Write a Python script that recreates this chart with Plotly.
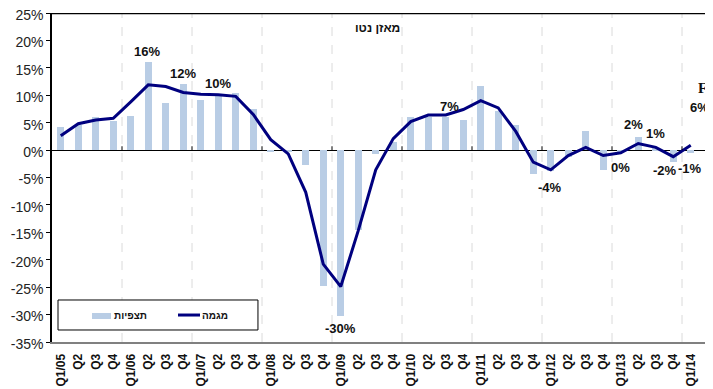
import plotly.graph_objects as go

categories = ["Q1/05", "Q2", "Q3", "Q4", "Q1/06", "Q2", "Q3", "Q4",
              "Q1/07", "Q2", "Q3", "Q4", "Q1/08", "Q2", "Q3", "Q4",
              "Q1/09", "Q2", "Q3", "Q4", "Q1/10", "Q2", "Q3", "Q4",
              "Q1/11", "Q2", "Q3", "Q4", "Q1/12", "Q2", "Q3", "Q4",
              "Q1/13", "Q2", "Q3", "Q4", "Q1/14", "Q2"]

observed = [4.2, 4.5, 6.1, 5.3, 6.3, 16.1, 8.6, 12.1, 9.1, 9.9, 10.5, 7.5,
            -0.2, -0.3, -2.8, -24.8, -30.3, -14.5, -0.7, 1.4, 6.0, 6.1, 6.1, 5.4,
            11.7, 7.1, 4.6, -4.4, -3.9, -1.2, 3.4, -3.7, -0.2, 2.3, 0.3, -2.1,
            -0.6, 6.3]

trend = [2.6, 4.8, 5.5, 5.8, 8.8, 11.9, 11.6, 10.5, 10.2, 10.1, 9.8, 6.5,
         1.9, -0.7, -7.7, -20.8, -24.9, -14.7, -3.6, 2.1, 5.2, 6.4, 6.4, 7.4,
         9.0, 7.7, 3.4, -2.2, -3.6, -1.0, 0.5, -1.0, -0.5, 1.2, 0.5, -1.2, 0.9]

label_texts = ["16%", "12%", "10%", "-30%", "7%", "-4%", "0%", "2%", "1%", "-2%", "-1%", "6%"]
label_x = [4.93, 6.99, 8.96, 15.96, 22.24, 27.96, 31.96, 32.7, 34.0, 34.5, 35.96, 36.95]
label_y = [17.9, 14.0, 12.2, -32.6, 8.0, -6.9, -3.1, 4.6, 3.1, -3.8, -3.3, 7.8]

series_names = ["תצפיות", "מגמה"]
chart_label = "מאזן נטו"
y_ticks = [25, 20, 15, 10, 5, 0, -5, -10, -15, -20, -25, -30, -35]

BAR_C = "#B9CDE5"
LINE_C = "#00007F"
FONT = "Liberation Sans, Arial, sans-serif"

xs = list(range(len(categories)))
x_end = -0.5 + 661 / 17.5

fig = go.Figure()
fig.add_trace(go.Bar(x=xs, y=observed, width=0.42, marker=dict(color=BAR_C, line=dict(width=0)),
                     name=series_names[0], showlegend=False))
fig.add_trace(go.Scatter(x=xs[:len(trend)], y=trend, mode="lines",
                         line=dict(color=LINE_C, width=3), name=series_names[1], showlegend=False))

shapes = []
for i in range(3, len(categories) - 1, 4):
    shapes.append(dict(type="line", xref="x", yref="paper", x0=i + 0.5, x1=i + 0.5, y0=0, y1=1,
                       line=dict(color="#DADADA", width=1, dash="dash"), layer="below"))
    shapes.append(dict(type="line", xref="x", yref="y", x0=i + 0.5, x1=i + 0.5, y0=0, y1=0.7,
                       line=dict(color="black", width=1)))
shapes.append(dict(type="line", xref="paper", yref="y", x0=0, x1=1, y0=24.9, y1=24.9,
                   line=dict(color="black", width=1.5)))
shapes.append(dict(type="rect", xref="paper", yref="paper", x0=0.0091, x1=0.3116, y0=0.0365, y1=0.1277,
                   line=dict(color="black", width=1), fillcolor="white"))
shapes.append(dict(type="rect", xref="paper", yref="paper", x0=0.0605, x1=0.0893, y0=0.0699, y1=0.0881,
                   line=dict(width=0), fillcolor=BAR_C))
shapes.append(dict(type="line", xref="paper", yref="paper", x0=0.1906, x1=0.2239, y0=0.082, y1=0.082,
                   line=dict(color=LINE_C, width=3)))

annotations = []
for t, x, y in zip(label_texts, label_x, label_y):
    a = dict(x=x, y=y, xref="x", yref="y", text="<b>" + t + "</b>", showarrow=False,
             font=dict(family=FONT, size=13, color="#111"), xanchor="center", yanchor="middle")
    if x > x_end - 0.5:
        a["x"] = x_end
        a["xanchor"] = "right"
        a["xshift"] = -2
    annotations.append(a)
annotations.append(dict(x=x_end, y=11.3, xref="x", yref="y", text="<b>F</b>", showarrow=False,
                        font=dict(family="Liberation Serif, Times New Roman, serif", size=15, color="#111"),
                        xanchor="right", yanchor="middle", xshift=-4))
annotations.append(dict(x=0.492, y=0.954, xref="paper", yref="paper", text="<b>" + chart_label + "</b>",
                        showarrow=False, font=dict(family=FONT, size=12, color="#111"),
                        xanchor="center", yanchor="middle"))
annotations.append(dict(x=0.0908, y=0.080, xref="paper", yref="paper", text="<b>" + series_names[0] + "</b>",
                        showarrow=False, font=dict(family=FONT, size=10, color="#111"),
                        xanchor="left", yanchor="middle"))
annotations.append(dict(x=0.224, y=0.080, xref="paper", yref="paper", text="<b>" + series_names[1] + "</b>",
                        showarrow=False, font=dict(family=FONT, size=10, color="#111"),
                        xanchor="left", yanchor="middle"))

fig.update_layout(
    width=705, height=381,
    margin=dict(l=44, r=0, t=5, b=47, autoexpand=False),
    paper_bgcolor="white", plot_bgcolor="white",
    bargap=0,
    shapes=shapes, annotations=annotations,
    font=dict(family=FONT, color="#111"),
    xaxis=dict(range=[-0.5, x_end], tickmode="array", tickvals=xs,
               ticktext=["<b>" + c + "</b>" for c in categories], tickangle=-90,
               tickfont=dict(family=FONT, size=12, color="#111"),
               showgrid=False, zeroline=False, showline=True, linecolor="#808080", linewidth=2,
               ticks="", ticklabelstandoff=5, automargin=False, fixedrange=True),
    yaxis=dict(range=[-35, 25], tickmode="array", tickvals=y_ticks,
               ticktext=[f"{v}%" for v in y_ticks],
               tickfont=dict(family=FONT, size=14, color="#222"),
               showgrid=False, zeroline=True, zerolinecolor="black", zerolinewidth=1,
               showline=True, linecolor="black", linewidth=1.5, ticks="outside", ticklen=4,
               tickcolor="black", ticklabeloverflow="allow", ticklabelshift=2, automargin=False),
)

fig.write_html("out.html")
